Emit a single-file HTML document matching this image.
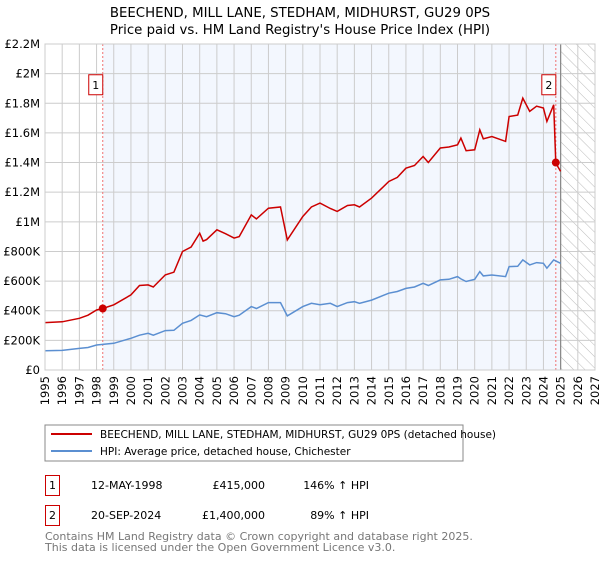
<!DOCTYPE html>
<html><head><meta charset="utf-8"><style>
body{margin:0;width:600px;height:560px;background:#fff;font-family:"DejaVu Sans","Liberation Sans",sans-serif;overflow:hidden}
svg text{font-family:"DejaVu Sans","Liberation Sans",sans-serif}
</style></head><body>
<svg id="chart" width="600" height="560" viewBox="0 0 600 560" xmlns="http://www.w3.org/2000/svg">
<defs><pattern id="hatch" width="8" height="8" patternUnits="userSpaceOnUse" patternTransform="rotate(-45)"><line x1="0" y1="0" x2="0" y2="8" stroke="#bbb" stroke-width="1"/></pattern></defs>
<text x="300" y="17" text-anchor="middle" font-size="13.3">BEECHEND, MILL LANE, STEDHAM, MIDHURST, GU29 0PS</text>
<text x="300" y="34" text-anchor="middle" font-size="13.3">Price paid vs. HM Land Registry's House Price Index (HPI)</text>
<g id="plot"></g>
<g>
<rect x="45" y="425" width="418" height="36" fill="#fff" stroke="#888"/>
<line x1="51" y1="434" x2="92" y2="434" stroke="#cc0000" stroke-width="2"/>
<text x="100" y="438" font-size="10.5">BEECHEND, MILL LANE, STEDHAM, MIDHURST, GU29 0PS (detached house)</text>
<line x1="51" y1="451" x2="92" y2="451" stroke="#5b8fd1" stroke-width="2"/>
<text x="100" y="455" font-size="10.5">HPI: Average price, detached house, Chichester</text>
</g>
<g font-size="11">
<rect x="45.5" y="475.5" width="14" height="20" fill="#fff" stroke="#cc0000"/>
<text x="52.5" y="489" text-anchor="middle">1</text>
<text x="91" y="489">12-MAY-1998</text>
<text x="265" y="489" text-anchor="end">£415,000</text>
<text x="369" y="489" text-anchor="end">146% ↑ HPI</text>
</g>
<g font-size="11">
<rect x="45.5" y="505.5" width="14" height="20" fill="#fff" stroke="#cc0000"/>
<text x="52.5" y="519" text-anchor="middle">2</text>
<text x="91" y="519">20-SEP-2024</text>
<text x="265" y="519" text-anchor="end">£1,400,000</text>
<text x="369" y="519" text-anchor="end">89% ↑ HPI</text>
</g>
<text x="45" y="540" font-size="11" fill="#777">Contains HM Land Registry data © Crown copyright and database right 2025.</text>
<text x="45" y="551" font-size="11" fill="#777">This data is licensed under the Open Government Licence v3.0.</text>
</svg>
<script>
const hpiYears=[1995,1996,1997,1997.5,1998,1999,2000,2000.5,2001,2001.3,2002,2002.5,2003,2003.5,2004,2004.4,2005,2005.5,2006,2006.3,2007,2007.3,2008,2008.7,2009.1,2010,2010.5,2011,2011.6,2012,2012.6,2013,2013.3,2014,2015,2015.5,2016,2016.5,2017,2017.3,2018,2018.5,2019,2019.2,2019.5,2020,2020.3,2020.5,2021,2021.8,2022,2022.5,2022.8,2023.2,2023.6,2024,2024.2,2024.6,2025];
const hpiValues=[130,132,146,152,169,180,214,235,248,235,266,268,315,335,372,360,387,380,360,370,428,415,455,455,365,428,450,440,450,428,455,461,450,472,518,530,551,560,585,570,608,612,630,615,597,612,664,635,641,630,698,700,743,709,725,720,687,743,720];
const redYears=[1995,1996,1997,1997.5,1998,1998.36,1999,2000,2000.5,2001,2001.3,2002,2002.5,2003,2003.5,2004,2004.2,2004.4,2005,2005.5,2006,2006.3,2007,2007.3,2008,2008.7,2009.1,2010,2010.5,2011,2011.6,2012,2012.6,2013,2013.3,2014,2015,2015.5,2016,2016.5,2017,2017.3,2018,2018.5,2019,2019.2,2019.5,2020,2020.3,2020.5,2021,2021.8,2022,2022.5,2022.8,2023.2,2023.6,2024,2024.2,2024.6,2024.72,2025];
const redValues=[320,325,349,370,405,415,440,507,570,574,560,642,660,800,830,923,870,880,946,920,890,900,1047,1020,1092,1100,878,1036,1100,1126,1090,1070,1110,1115,1100,1160,1272,1300,1362,1380,1441,1400,1498,1505,1520,1565,1480,1486,1621,1560,1576,1543,1711,1720,1835,1745,1780,1768,1678,1790,1396,1340];
const sales=[{t:1998.36,v:415,label:"1"},{t:2024.72,v:1400,label:"2"}];
const yTicks=[0,200,400,600,800,1000,1200,1400,1600,1800,2000,2200];
const yLabels=["£0","£200K","£400K","£600K","£800K","£1M","£1.2M","£1.4M","£1.6M","£1.8M","£2M","£2.2M"];
const xTicks=[1995,1996,1997,1998,1999,2000,2001,2002,2003,2004,2005,2006,2007,2008,2009,2010,2011,2012,2013,2014,2015,2016,2017,2018,2019,2020,2021,2022,2023,2024,2025,2026,2027];

const NS="http://www.w3.org/2000/svg";
const X0=45,X1=595,Y0=370,Y1=44;
const xs=t=>X0+(t-1995)/(2027-1995)*(X1-X0);
const ys=v=>Y0-v/2200*(Y0-Y1);
const g=document.getElementById('plot');
function mk(tag,attrs,parent){const e=document.createElementNS(NS,tag);for(const k in attrs)e.setAttribute(k,attrs[k]);(parent||g).appendChild(e);return e;}
const bg=mk('rect',{x:X0,y:Y1,width:X1-X0,height:Y0-Y1,fill:'#fff'});


const shade=mk('rect',{x:xs(sales[0].t),y:Y1,width:xs(2025)-xs(sales[0].t),height:Y0-Y1,fill:'#eef3fd',opacity:0.7});


const hatch=mk('rect',{x:xs(2025),y:Y1,width:X1-xs(2025),height:Y0-Y1,fill:'url(#hatch)'});


yTicks.forEach((v,i)=>{
 const l=mk('line',{x1:X0,x2:X1,y1:ys(v),y2:ys(v),stroke:'#ccc','stroke-width':1});
 
 
 const t=mk('text',{x:X0-5,y:ys(v)+4,'text-anchor':'end','font-size':11.5});
 t.textContent=yLabels[i];
 
 
});
xTicks.forEach(yr=>{
 const l=mk('line',{x1:xs(yr),x2:xs(yr),y1:Y1,y2:Y0,stroke:'#ccc','stroke-width':1});
 
 
 const t=mk('text',{x:0,y:0,'font-size':11.5,'text-anchor':'end',transform:`translate(${xs(yr)+4},${Y0+6}) rotate(-90)`});
 t.textContent=yr;
 
 
});
const nowLine=mk('line',{x1:xs(2025),x2:xs(2025),y1:Y1,y2:Y0,stroke:'#888','stroke-width':1.2});


sales.forEach(s=>{
 const l=mk('line',{x1:xs(s.t),x2:xs(s.t),y1:Y1,y2:Y0,stroke:'#f07070','stroke-width':1,'stroke-dasharray':'2,2'});
 
 
});
const hpiPath=mk('path',{d:hpiYears.map((t,i)=>(i?'L':'M')+xs(t).toFixed(1)+','+ys(hpiValues[i]).toFixed(1)).join(''),fill:'none',stroke:'#5b8fd1','stroke-width':1.5});


const redPath=mk('path',{d:redYears.map((t,i)=>(i?'L':'M')+xs(t).toFixed(1)+','+ys(redValues[i]).toFixed(1)).join(''),fill:'none',stroke:'#cc0000','stroke-width':1.5});


sales.forEach(s=>{
 const c=mk('circle',{cx:xs(s.t),cy:ys(s.v),r:4,fill:'#cc0000'});
 
 
 const bx=xs(s.t)-14, by=ys(1925);
 const r=mk('rect',{x:bx,y:by-10,width:14,height:20,fill:'#fff',stroke:'#cc0000'});
 
 
 const t=mk('text',{x:bx+7,y:by+4,'text-anchor':'middle','font-size':11});
 t.textContent=s.label;
 
 
});
const frame=mk('rect',{x:X0,y:Y1,width:X1-X0,height:Y0-Y1,fill:'none',stroke:'#ccc'});


</script>
</body></html>
